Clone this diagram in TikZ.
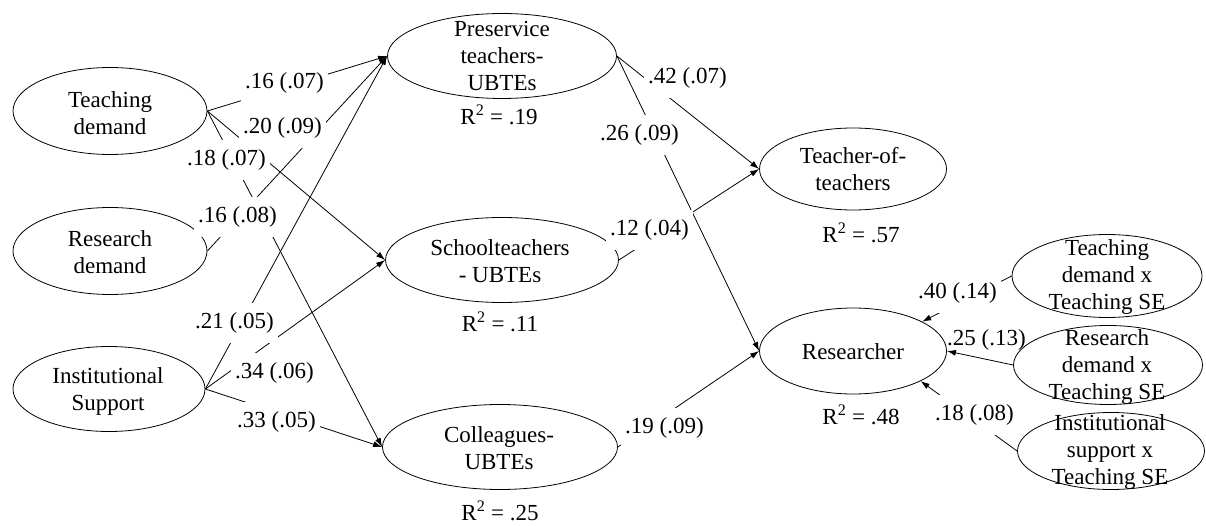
\documentclass[tikz,border=0pt]{standalone}
\usepackage{fontspec}
\setmainfont{Liberation Serif}
\usetikzlibrary{shapes.geometric,arrows.meta}
\begin{document}
\begin{tikzpicture}[x=1pt,y=-1pt,
  ell/.style={draw, ellipse, line width=0.8pt, inner sep=0pt},
  txt/.style={font=\fontsize{23pt}{27pt}\selectfont, align=center, inner sep=0pt},
  lab/.style={font=\fontsize{23pt}{27pt}\selectfont, fill=white, inner xsep=4pt, inner ysep=10pt, anchor=west},
  labn/.style={lab, fill=none},
  arr/.style={line width=0.8pt, -{Latex[length=9pt,width=6pt]}}]
\useasboundingbox (0,0) rectangle (1206,526);
% ellipses
\node[ell, minimum width=194pt, minimum height=87pt] (td) at (110,111) {};
\node[ell, minimum width=194pt, minimum height=87pt] (rd) at (110,251) {};
\node[ell, minimum width=192pt, minimum height=85pt] (is) at (109,389) {};
\node[ell, minimum width=229pt, minimum height=85pt] (pre) at (502,56) {};
\node[ell, minimum width=233pt, minimum height=85pt] (sch) at (502,260) {};
\node[ell, minimum width=235pt, minimum height=85pt] (col) at (500,447) {};
\node[ell, minimum width=187pt, minimum height=82pt] (tot) at (853,169) {};
\node[ell, minimum width=187pt, minimum height=86pt] (res) at (853,351) {};
\node[ell, minimum width=190pt, minimum height=83pt] (tdx) at (1107,276) {};
\node[ell, minimum width=189pt, minimum height=79pt] (rdx) at (1108,365) {};
\node[ell, minimum width=187pt, minimum height=77pt] (icx) at (1111,451) {};
% connectors
\draw[arr] (td.east) -- (pre.west);
\draw[arr] (td.east) -- (sch.west);
\draw[arr] (td.east) -- (col.west);
\draw[arr] (rd.east) -- (pre.west);
\draw[arr] (is.east) -- (pre.west);
\draw[arr] (is.east) -- (sch.west);
\draw[arr] (is.east) -- (col.west);
\draw[arr] (pre.east) -- (tot.west);
\draw[arr] (pre.east) -- (res.west);
\draw[arr] (sch.east) -- (tot.west);
\draw[arr] (col.east) -- (res.west);
\draw[arr] (tdx.west) -- (res.23);
\draw[arr] (rdx.west) -- (res.east);
\draw[arr] (icx.west) -- (res.-24);
% path labels
\node[lab] (l1) at (241,83) {.16 (.07)\hspace{13pt}};
\node[lab] (l2) at (239,128) {.20 (.09)};
\node[lab] (l3) at (183,160) {.18 (.07)};
\node[lab] (l4) at (194,217) {.16 (.08)};
\node[lab] (l5) at (191,323) {.21 (.05)};
\node[lab] (l6) at (231,373) {.34 (.06)};
\node[lab] (l7) at (233,422) {.33 (.05)};
\node[lab] (l8) at (644,78) {.42 (.07)};
\node[lab] (l9) at (596,135) {.26 (.09)\hspace{14pt}};
\node[lab] (l10) at (606,230) {.12 (.04)\hspace{10pt}};
\node[lab] (l11) at (621,428) {.19 (.09)};
\node[lab] (l12) at (914,293) {.40 (.14)};
\node[labn] (l13) at (943,340) {.25 (.13)};
\node[lab] (l14) at (931,415) {.18 (.08)};
% ellipse texts
\node[txt] (td-t) at (110,113) {Teaching\\demand};
\node[txt] (rd-t) at (110,252) {Research\\demand};
\node[txt] (is-t) at (108,391) {Institutional\\Support};
\node[txt] (pre-t) at (502,56) {Preservice\\teachers-\\UBTEs};
\node[txt] (sch-t) at (500,261) {Schoolteachers\\- UBTEs};
\node[txt] (col-t) at (499,448) {Colleagues-\\UBTEs};
\node[txt] (tot-t) at (853,169) {Teacher-of-\\teachers};
\node[txt] (res-t) at (853,352) {Researcher};
\node[txt] (tdx-t) at (1107,277) {Teaching\\demand x\\Teaching SE};
\node[txt] (rdx-t) at (1107,367) {Research\\demand x\\Teaching SE};
\node[txt] (icx-t) at (1110,452) {Institutional\\support x\\Teaching SE};
% R squared
\node[txt] (r1) at (499,115) {R\textsuperscript{2} = .19};
\node[txt] (r2) at (500,322) {R\textsuperscript{2} = .11};
\node[txt] (r3) at (500,511) {R\textsuperscript{2} = .25};
\node[txt] (r4) at (861,233) {R\textsuperscript{2} = .57};
\node[txt] (r5) at (861,415) {R\textsuperscript{2} = .48};
\end{tikzpicture}
\end{document}
